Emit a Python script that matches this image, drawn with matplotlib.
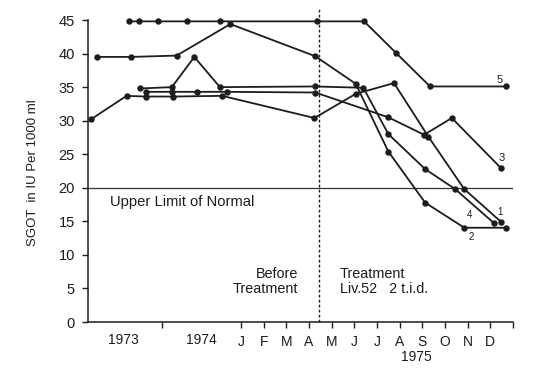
import matplotlib
matplotlib.use("Agg")
import matplotlib.pyplot as plt

plt.rcParams['font.family'] = ['Liberation Sans', 'DejaVu Sans']

# x in months, 0 = January 1975 (earlier years compressed as in the original)
s5_x = [-4.94, -4.49, -3.65, -2.38, -0.93, 3.34, 5.43, 6.84, 8.34, 11.69]
s5_y = [44.8, 44.8, 44.8, 44.8, 44.8, 44.8, 44.8, 40.1, 35.1, 35.1]

s2_x = [-6.37, -4.86, -2.84, -0.47, 3.28, 5.06, 6.50, 8.12, 9.85, 11.69]
s2_y = [39.5, 39.5, 39.7, 44.4, 39.6, 35.5, 25.4, 17.8, 14.05, 14.05]

s4_x = [-4.46, -3.05, -2.06, -0.93, 3.28, 5.40, 6.50, 8.12, 9.45, 11.14]
s4_y = [34.8, 35.0, 39.5, 35.0, 35.1, 34.9, 28.0, 22.8, 19.8, 14.8]

s3_x = [-4.19, -3.05, -1.96, -0.60, 3.28, 6.50, 8.08, 9.30, 11.48]
s3_y = [34.3, 34.3, 34.3, 34.3, 34.2, 30.5, 27.9, 30.4, 22.9]

s1_x = [-6.62, -5.05, -4.19, -2.99, -0.83, 3.24, 5.06, 6.75, 8.27, 9.85, 11.48]
s1_y = [30.2, 33.7, 33.6, 33.6, 33.7, 30.4, 34.0, 35.6, 27.6, 19.8, 14.9]

series_labels = ['5', '3', '1', '4', '2']
label_x = [11.43, 11.5, 11.43, 10.1, 10.14]
label_y = [36.1, 24.4, 16.4, 16.0, 12.7]
label_size = [8, 8, 7, 7, 7]

month_labels = ['J', 'F', 'M', 'A', 'M', 'J', 'J', 'A', 'S', 'O', 'N', 'D']
month_pos = list(range(12))
year_labels = ['1973', '1974']
year_pos = [-5.2, -1.75]
yticks = [0, 5, 10, 15, 20, 25, 30, 35, 40, 45]

upper_limit = 20
treatment_start = 3.44

fig = plt.figure(figsize=(5.33, 3.75), dpi=100)
ax = fig.add_axes([0.1651, 0.1413, 0.7974, 0.8053])

col = '#1c1c1c'
for xs, ys in [(s5_x, s5_y), (s2_x, s2_y), (s4_x, s4_y), (s3_x, s3_y), (s1_x, s1_y)]:
    ax.plot(xs, ys, color=col, lw=1.3, marker='o', ms=3.6, clip_on=False, zorder=3)

for t, x, y, s in zip(series_labels, label_x, label_y, label_size):
    ax.text(x, y, t, fontsize=s, ha='center', va='center', color=col)

ax.axhline(upper_limit, color='#333333', lw=0.9, xmin=0, xmax=1.0, zorder=2)
ax.axvline(treatment_start, ymin=0, ymax=1.043, color=col, lw=1.0,
           linestyle=(0, (2, 1.6)), clip_on=False, zorder=2)

ax.text(-5.78, 17.9, 'Upper Limit of Normal', fontsize=10.6, ha='left', va='center', color=col)
ax.text(2.52, 6.1, 'Before\nTreatment', fontsize=10.4, ha='right', va='center',
        multialignment='right', color=col, linespacing=1.1)
ax.text(4.37, 6.1, 'Treatment\nLiv.52   2 t.i.d.', fontsize=10.4, ha='left', va='center',
        multialignment='left', color=col, linespacing=1.1)
ax.text(7.73, -5.2, '1975', fontsize=10, ha='center', va='center', color=col, clip_on=False)

ax.set_xlim(-6.75, 12.0)
ax.set_ylim(0, 45)

ax.set_xticks([-3.5] + month_pos + [12])
ax.set_xticklabels([''] + month_labels + [''])
ax.set_xticks(year_pos, minor=True)
ax.set_xticklabels(year_labels, minor=True)
ax.tick_params(axis='x', which='major', direction='out', length=4, width=1, pad=5,
               labelsize=10, colors=col)
ax.tick_params(axis='x', which='minor', length=0, pad=5 + 2.9, labelsize=10, colors=col)

ax.set_yticks(yticks)
ax.set_yticklabels([str(v) for v in yticks])
ax.tick_params(axis='y', direction='out', length=4.5, width=1, pad=5,
               labelsize=10.5, colors=col)

for side in ['top', 'right']:
    ax.spines[side].set_visible(False)
for side in ['left', 'bottom']:
    ax.spines[side].set_color(col)
    ax.spines[side].set_linewidth(1.1)

fig.text(0.062, 0.539, 'SGOT  in IU Per 1000 ml', rotation=90, fontsize=9.5,
         ha='center', va='center', color=col)

fig.savefig('out.png', dpi=100, facecolor='white')
